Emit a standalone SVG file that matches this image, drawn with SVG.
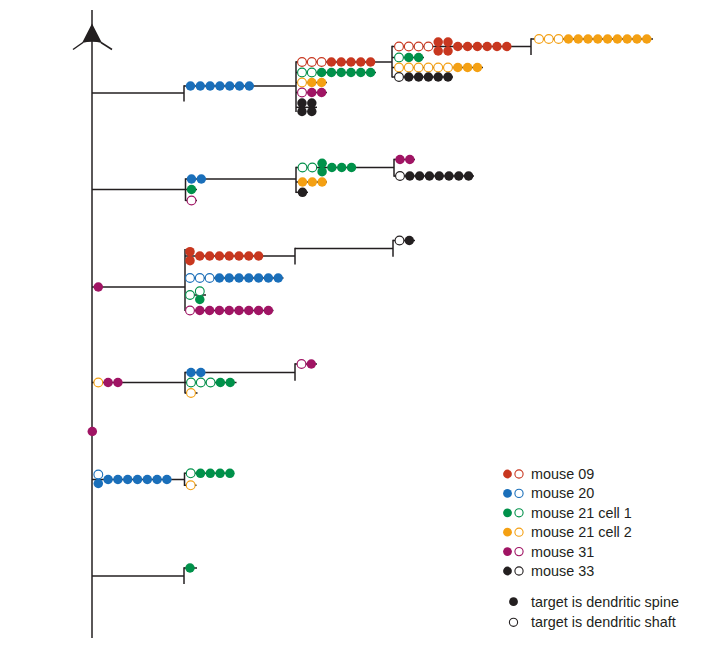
<svg xmlns="http://www.w3.org/2000/svg" width="723" height="645" viewBox="0 0 723 645">
<style>
.ln{stroke:#231f20;stroke-width:1.5;fill:none}
.r{fill:#c8371f}.ro{fill:#fff;stroke:#c8371f;stroke-width:1.1}
.b{fill:#1a6fba}.bo{fill:#fff;stroke:#1a6fba;stroke-width:1.1}
.g{fill:#00914a}.go{fill:#fff;stroke:#00914a;stroke-width:1.1}
.o{fill:#f4a013}.oo{fill:#fff;stroke:#f4a013;stroke-width:1.1}
.p{fill:#a01464}.po{fill:#fff;stroke:#a01464;stroke-width:1.1}
.k{fill:#231f20}.ko{fill:#fff;stroke:#231f20;stroke-width:1.1}
text{font-family:"Liberation Sans",Arial,sans-serif;font-size:14.4px;fill:#231f20}
</style>
<rect width="723" height="645" fill="#fff"/>
<g id="connectors" class="ln">
<line x1="92" y1="10" x2="92" y2="638"/>
<line x1="83" y1="42.5" x2="73" y2="49.5"/>
<line x1="101" y1="42.5" x2="112" y2="49.5"/>
<!-- branch 1 -->
<line x1="92" y1="93" x2="184" y2="93"/>
<line x1="184" y1="85.3" x2="184" y2="101.5"/>
<line x1="184" y1="86" x2="296" y2="86"/>
<line x1="296" y1="61.3" x2="296" y2="112"/>
<line x1="296" y1="62" x2="392" y2="62"/>
<line x1="296" y1="72.5" x2="376" y2="72.5"/>
<line x1="296" y1="82.5" x2="327" y2="82.5"/>
<line x1="296" y1="92.5" x2="327" y2="92.5"/>
<line x1="296" y1="107.3" x2="317" y2="107.3"/>
<line x1="392" y1="45.8" x2="392" y2="77.5"/>
<line x1="392" y1="46.5" x2="531" y2="46.5"/>
<line x1="392" y1="57.5" x2="424" y2="57.5"/>
<line x1="392" y1="67.5" x2="483" y2="67.5"/>
<line x1="392" y1="77" x2="453" y2="77"/>
<line x1="531" y1="38.3" x2="531" y2="55"/>
<line x1="531" y1="39" x2="653" y2="39"/>
<!-- branch 2 -->
<line x1="92" y1="189.5" x2="185.5" y2="189.5"/>
<line x1="185.5" y1="178.3" x2="185.5" y2="201"/>
<line x1="185.5" y1="179" x2="296" y2="179"/>
<line x1="185.5" y1="200.5" x2="197" y2="200.5"/>
<line x1="185.5" y1="189.5" x2="197" y2="189.5"/>
<line x1="296" y1="166.8" x2="296" y2="193"/>
<line x1="296" y1="167.5" x2="394" y2="167.5"/>
<line x1="296" y1="182" x2="327" y2="182"/>
<line x1="296" y1="192.3" x2="308" y2="192.3"/>
<line x1="394" y1="158.8" x2="394" y2="176.7"/>
<line x1="394" y1="159.5" x2="415" y2="159.5"/>
<line x1="394" y1="176" x2="474" y2="176"/>
<!-- branch 3 -->
<line x1="92" y1="287" x2="185" y2="287"/>
<line x1="185" y1="249" x2="185" y2="311"/>
<line x1="185" y1="256" x2="295" y2="256"/>
<line x1="185" y1="278" x2="283.5" y2="278"/>
<line x1="185" y1="295" x2="206" y2="295"/>
<line x1="185" y1="310.5" x2="273.5" y2="310.5"/>
<line x1="295" y1="247.8" x2="295" y2="264.5"/>
<line x1="295" y1="248.5" x2="393" y2="248.5"/>
<line x1="393" y1="239.8" x2="393" y2="256.7"/>
<line x1="393" y1="240.5" x2="415" y2="240.5"/>
<!-- branch 4 -->
<line x1="92" y1="382.5" x2="185" y2="382.5"/>
<line x1="185" y1="371.8" x2="185" y2="393.5"/>
<line x1="185" y1="372.5" x2="295" y2="372.5"/>
<line x1="185" y1="393" x2="197.5" y2="393"/>
<line x1="185" y1="382.5" x2="236.5" y2="382.5"/>
<line x1="295" y1="363.3" x2="295" y2="380.7"/>
<line x1="295" y1="364" x2="317" y2="364"/>
<!-- branch 5 -->
<line x1="92" y1="479.5" x2="184.5" y2="479.5"/>
<line x1="184.5" y1="472.6" x2="184.5" y2="486"/>
<line x1="184.5" y1="473.3" x2="230" y2="473.3"/>
<line x1="184.5" y1="485.3" x2="196.5" y2="485.3"/>
<!-- branch 6 -->
<line x1="92" y1="576" x2="184" y2="576"/>
<line x1="184" y1="567.3" x2="184" y2="584"/>
<line x1="184" y1="568" x2="197" y2="568"/>
</g>
<g id="soma">
<path d="M92,23.5 L102,43 Q92,40.5 82,43 Z" fill="#231f20"/>
</g>
<g id="b1-row">
<circle class="b" cx="190.5" cy="86" r="4.75"/><circle class="b" cx="200.3" cy="86" r="4.75"/><circle class="b" cx="210.1" cy="86" r="4.75"/><circle class="b" cx="219.9" cy="86" r="4.75"/><circle class="b" cx="229.7" cy="86" r="4.75"/><circle class="b" cx="239.5" cy="86" r="4.75"/><circle class="b" cx="249.3" cy="86" r="4.75"/>
</g>
<g id="b1-sub1">
<circle class="ro" cx="302" cy="62" r="4.4"/><circle class="ro" cx="311.8" cy="62" r="4.4"/><circle class="ro" cx="321.6" cy="62" r="4.4"/><circle class="r" cx="331.4" cy="62" r="4.75"/><circle class="r" cx="341.2" cy="62" r="4.75"/><circle class="r" cx="351" cy="62" r="4.75"/><circle class="r" cx="360.8" cy="62" r="4.75"/><circle class="r" cx="370.6" cy="62" r="4.75"/>
<circle class="go" cx="302" cy="72.5" r="4.4"/><circle class="go" cx="311.8" cy="72.5" r="4.4"/><circle class="g" cx="321.6" cy="72.5" r="4.75"/><circle class="g" cx="331.4" cy="72.5" r="4.75"/><circle class="g" cx="341.2" cy="72.5" r="4.75"/><circle class="g" cx="351" cy="72.5" r="4.75"/><circle class="g" cx="360.8" cy="72.5" r="4.75"/><circle class="g" cx="370.6" cy="72.5" r="4.75"/>
<circle class="oo" cx="302" cy="82.5" r="4.4"/><circle class="o" cx="311.8" cy="82.5" r="4.75"/><circle class="o" cx="321.6" cy="82.5" r="4.75"/>
<circle class="po" cx="302" cy="92.5" r="4.4"/><circle class="p" cx="311.8" cy="92.5" r="4.75"/><circle class="p" cx="321.6" cy="92.5" r="4.75"/>
<circle class="k" cx="302" cy="103" r="4.75"/><circle class="k" cx="302" cy="111.5" r="4.75"/><circle class="k" cx="311.8" cy="103" r="4.75"/><circle class="k" cx="311.8" cy="111.5" r="4.75"/>
</g>
<g id="b1-sub2">
<circle class="ro" cx="399" cy="46.5" r="4.4"/><circle class="ro" cx="408.8" cy="46.5" r="4.4"/><circle class="ro" cx="418.6" cy="46.5" r="4.4"/><circle class="ro" cx="428.4" cy="46.5" r="4.4"/>
<circle class="r" cx="438.2" cy="42" r="4.75"/><circle class="r" cx="438.2" cy="51" r="4.75"/><circle class="r" cx="448" cy="42" r="4.75"/><circle class="r" cx="448" cy="51" r="4.75"/>
<circle class="r" cx="457.8" cy="46.5" r="4.75"/><circle class="r" cx="467.6" cy="46.5" r="4.75"/><circle class="r" cx="477.4" cy="46.5" r="4.75"/><circle class="r" cx="487.2" cy="46.5" r="4.75"/><circle class="r" cx="497" cy="46.5" r="4.75"/><circle class="r" cx="506.8" cy="46.5" r="4.75"/>
<circle class="go" cx="399" cy="57.5" r="4.4"/><circle class="g" cx="408.8" cy="57.5" r="4.75"/><circle class="g" cx="418.6" cy="57.5" r="4.75"/>
<circle class="oo" cx="399" cy="67.5" r="4.4"/><circle class="oo" cx="408.8" cy="67.5" r="4.4"/><circle class="oo" cx="418.6" cy="67.5" r="4.4"/><circle class="oo" cx="428.4" cy="67.5" r="4.4"/><circle class="oo" cx="438.2" cy="67.5" r="4.4"/><circle class="oo" cx="448" cy="67.5" r="4.4"/><circle class="o" cx="457.8" cy="67.5" r="4.75"/><circle class="o" cx="467.6" cy="67.5" r="4.75"/><circle class="o" cx="477.4" cy="67.5" r="4.75"/>
<circle class="ko" cx="399" cy="77" r="4.4"/><circle class="k" cx="408.8" cy="77" r="4.75"/><circle class="k" cx="418.6" cy="77" r="4.75"/><circle class="k" cx="428.4" cy="77" r="4.75"/><circle class="k" cx="438.2" cy="77" r="4.75"/><circle class="k" cx="448" cy="77" r="4.75"/>
</g>
<g id="b1-sub3">
<circle class="oo" cx="539" cy="39" r="4.4"/><circle class="oo" cx="548.8" cy="39" r="4.4"/><circle class="oo" cx="558.6" cy="39" r="4.4"/>
<circle class="o" cx="568.4" cy="39" r="4.75"/><circle class="o" cx="578.2" cy="39" r="4.75"/><circle class="o" cx="588" cy="39" r="4.75"/><circle class="o" cx="597.8" cy="39" r="4.75"/><circle class="o" cx="607.6" cy="39" r="4.75"/><circle class="o" cx="617.4" cy="39" r="4.75"/><circle class="o" cx="627.2" cy="39" r="4.75"/><circle class="o" cx="637" cy="39" r="4.75"/><circle class="o" cx="646.8" cy="39" r="4.75"/>
</g>
<g id="b2-row">
<circle class="b" cx="191.5" cy="179" r="4.75"/><circle class="b" cx="201.3" cy="179" r="4.75"/>
<circle class="g" cx="191.5" cy="189.5" r="4.75"/>
<circle class="po" cx="191.5" cy="200.5" r="4.4"/>
</g>
<g id="b2-sub1">
<circle class="go" cx="302.5" cy="167.5" r="4.4"/><circle class="go" cx="312.3" cy="167.5" r="4.4"/>
<circle class="g" cx="322.1" cy="163.3" r="4.75"/><circle class="g" cx="322.1" cy="171.7" r="4.75"/>
<circle class="g" cx="331.9" cy="167.5" r="4.75"/><circle class="g" cx="341.7" cy="167.5" r="4.75"/><circle class="g" cx="351.5" cy="167.5" r="4.75"/>
<circle class="o" cx="302.5" cy="182" r="4.75"/><circle class="o" cx="312.3" cy="182" r="4.75"/><circle class="o" cx="322.1" cy="182" r="4.75"/>
<circle class="k" cx="302.5" cy="192.3" r="4.75"/>
</g>
<g id="b2-sub2">
<circle class="p" cx="400" cy="159.5" r="4.75"/><circle class="p" cx="409.8" cy="159.5" r="4.75"/>
<circle class="ko" cx="400" cy="176" r="4.4"/><circle class="k" cx="409.8" cy="176" r="4.75"/><circle class="k" cx="419.6" cy="176" r="4.75"/><circle class="k" cx="429.4" cy="176" r="4.75"/><circle class="k" cx="439.2" cy="176" r="4.75"/><circle class="k" cx="449" cy="176" r="4.75"/><circle class="k" cx="458.8" cy="176" r="4.75"/><circle class="k" cx="468.6" cy="176" r="4.75"/>
</g>
<g id="b3-trunk">
<circle class="p" cx="98.3" cy="287" r="4.75"/>
</g>
<g id="b3-row">
<circle class="r" cx="190" cy="251.7" r="4.75"/><circle class="r" cx="190" cy="260.7" r="4.75"/>
<circle class="r" cx="199.8" cy="256" r="4.75"/><circle class="r" cx="209.6" cy="256" r="4.75"/><circle class="r" cx="219.4" cy="256" r="4.75"/><circle class="r" cx="229.2" cy="256" r="4.75"/><circle class="r" cx="239" cy="256" r="4.75"/><circle class="r" cx="248.8" cy="256" r="4.75"/><circle class="r" cx="258.6" cy="256" r="4.75"/>
<circle class="bo" cx="190" cy="278" r="4.4"/><circle class="bo" cx="199.8" cy="278" r="4.4"/><circle class="bo" cx="209.6" cy="278" r="4.4"/>
<circle class="b" cx="219.4" cy="278" r="4.75"/><circle class="b" cx="229.2" cy="278" r="4.75"/><circle class="b" cx="239" cy="278" r="4.75"/><circle class="b" cx="248.8" cy="278" r="4.75"/><circle class="b" cx="258.6" cy="278" r="4.75"/><circle class="b" cx="268.4" cy="278" r="4.75"/><circle class="b" cx="278.2" cy="278" r="4.75"/>
<circle class="go" cx="190" cy="295" r="4.4"/><circle class="g" cx="199.8" cy="299.5" r="4.75"/><circle class="go" cx="199.8" cy="291.3" r="4.4"/>
<circle class="po" cx="190" cy="310.5" r="4.4"/>
<circle class="p" cx="199.8" cy="310.5" r="4.75"/><circle class="p" cx="209.6" cy="310.5" r="4.75"/><circle class="p" cx="219.4" cy="310.5" r="4.75"/><circle class="p" cx="229.2" cy="310.5" r="4.75"/><circle class="p" cx="239" cy="310.5" r="4.75"/><circle class="p" cx="248.8" cy="310.5" r="4.75"/><circle class="p" cx="258.6" cy="310.5" r="4.75"/><circle class="p" cx="268.4" cy="310.5" r="4.75"/>
</g>
<g id="b3-sub">
<circle class="ko" cx="399.5" cy="240.5" r="4.4"/><circle class="k" cx="409.3" cy="240.5" r="4.75"/>
</g>
<g id="b4-trunk">
<circle class="oo" cx="98.3" cy="382.5" r="4.4"/><circle class="p" cx="108.1" cy="382.5" r="4.75"/><circle class="p" cx="117.9" cy="382.5" r="4.75"/>
</g>
<g id="b4-row">
<circle class="b" cx="191" cy="372.5" r="4.75"/><circle class="b" cx="200.8" cy="372.5" r="4.75"/>
<circle class="go" cx="191" cy="382.5" r="4.4"/><circle class="go" cx="200.8" cy="382.5" r="4.4"/><circle class="go" cx="210.6" cy="382.5" r="4.4"/><circle class="g" cx="220.4" cy="382.5" r="4.75"/><circle class="g" cx="230.2" cy="382.5" r="4.75"/>
<circle class="oo" cx="191" cy="393" r="4.4"/>
</g>
<g id="b4-sub">
<circle class="po" cx="301.5" cy="364" r="4.4"/><circle class="p" cx="311.3" cy="364" r="4.75"/>
</g>
<g id="trunk-dot">
<circle class="p" cx="92.3" cy="431.5" r="4.75"/>
</g>
<g id="b5-trunk">
<circle class="bo" cx="98.3" cy="474.5" r="4.4"/><circle class="b" cx="98.3" cy="483.5" r="4.75"/>
<circle class="b" cx="108.1" cy="479.5" r="4.75"/><circle class="b" cx="117.9" cy="479.5" r="4.75"/><circle class="b" cx="127.7" cy="479.5" r="4.75"/><circle class="b" cx="137.5" cy="479.5" r="4.75"/><circle class="b" cx="147.3" cy="479.5" r="4.75"/><circle class="b" cx="157.1" cy="479.5" r="4.75"/><circle class="b" cx="166.9" cy="479.5" r="4.75"/>
</g>
<g id="b5-row">
<circle class="go" cx="190.7" cy="473.3" r="4.4"/><circle class="g" cx="200.5" cy="473.3" r="4.75"/><circle class="g" cx="210.3" cy="473.3" r="4.75"/><circle class="g" cx="220.1" cy="473.3" r="4.75"/><circle class="g" cx="229.9" cy="473.3" r="4.75"/>
<circle class="oo" cx="190.7" cy="485.3" r="4.4"/>
</g>
<g id="b6-row">
<circle class="g" cx="190" cy="568" r="4.75"/>
</g>
<g id="legend">
<circle class="r" cx="507.5" cy="474" r="4.4"/><circle class="ro" cx="519" cy="474" r="4.1"/><text x="531" y="479">mouse 09</text>
<circle class="b" cx="507.5" cy="493.4" r="4.4"/><circle class="bo" cx="519" cy="493.4" r="4.1"/><text x="531" y="498.4">mouse 20</text>
<circle class="g" cx="507.5" cy="512.8" r="4.4"/><circle class="go" cx="519" cy="512.8" r="4.1"/><text x="531" y="517.8">mouse 21 cell 1</text>
<circle class="o" cx="507.5" cy="532.2" r="4.4"/><circle class="oo" cx="519" cy="532.2" r="4.1"/><text x="531" y="537.2">mouse 21 cell 2</text>
<circle class="p" cx="507.5" cy="551.6" r="4.4"/><circle class="po" cx="519" cy="551.6" r="4.1"/><text x="531" y="556.6">mouse 31</text>
<circle class="k" cx="507.5" cy="571" r="4.4"/><circle class="ko" cx="519" cy="571" r="4.1"/><text x="531" y="576">mouse 33</text>
<circle class="k" cx="513.5" cy="601.7" r="4.4"/><text x="531" y="606.7">target is dendritic spine</text>
<circle class="ko" cx="513.5" cy="622.3" r="4.1"/><text x="531" y="627.3">target is dendritic shaft</text>
</g>
</svg>
